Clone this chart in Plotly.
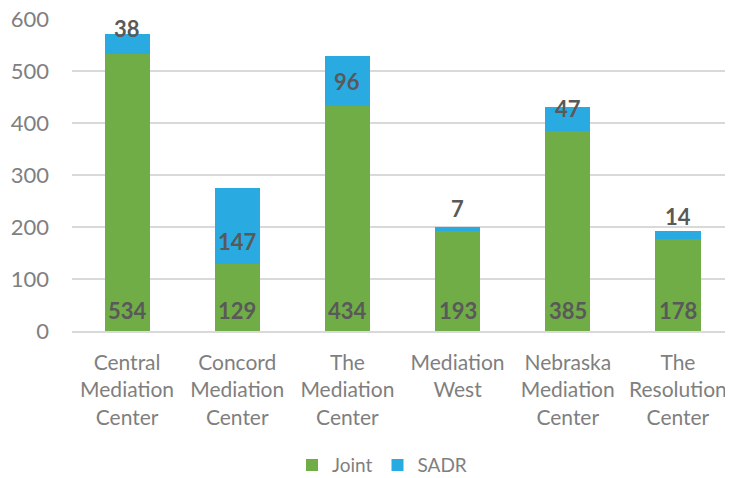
import plotly.graph_objects as go

# chart data
centers = ['Central<br>Mediation<br>Center', 'Concord<br>Mediation<br>Center',
           'The<br>Mediation<br>Center', 'Mediation<br>West',
           'Nebraska<br>Mediation<br>Center', 'The<br>Resolution<br>Center']
joint = [534, 129, 434, 193, 385, 178]
sadr = [38, 147, 96, 7, 47, 14]
y_ticks = [0, 100, 200, 300, 400, 500, 600]

# label offsets (pixels) relative to the top of each stack
sadr_shift = [5, -54, -26, 19, -2, 15]

GREEN = '#70AD47'
BLUE = '#29ABE2'
LABEL = '#595959'
TICK = '#7F7F7F'
FONT = 'Lato'

fig = go.Figure()
fig.add_trace(go.Bar(x=centers, y=joint, name='Joint', marker=dict(color=GREEN, line=dict(width=0))))
fig.add_trace(go.Bar(x=centers, y=sadr, name='SADR', marker=dict(color=BLUE, line=dict(width=0))))

annotations = []
for c, j, s, sh in zip(centers, joint, sadr, sadr_shift):
    annotations.append(dict(x=c, y=0, yshift=21, text=f'<b>{j}</b>', showarrow=False,
                            font=dict(family=FONT, size=22, color=LABEL)))
    annotations.append(dict(x=c, y=j + s, yshift=sh, text=f'<b>{s}</b>', showarrow=False,
                            font=dict(family=FONT, size=22, color=LABEL)))

# page body adds an 8px offset, so the figure is drawn 8px smaller
fig.update_layout(
    width=725, height=470,
    barmode='stack', bargap=0.59,
    margin=dict(l=64, r=0, t=11, b=147, autoexpand=False),
    plot_bgcolor='white', paper_bgcolor='white',
    font=dict(family=FONT, color=TICK),
    annotations=annotations,
    legend=dict(orientation='h', x=0.469, xanchor='center', y=-0.43, yanchor='middle',
                font=dict(family=FONT, size=19, color=TICK), traceorder='normal'),
    xaxis=dict(tickfont=dict(family=FONT, size=21, color=TICK), showline=True,
               linecolor='#D9D9D9', linewidth=1.5, ticks='', automargin=False,
               ticklabelstandoff=12),
    yaxis=dict(range=[0, 600.5], tickvals=y_ticks, tickfont=dict(family=FONT, size=22, color=TICK),
               showgrid=True, gridcolor='#D9D9D9', gridwidth=1.5, zeroline=False,
               ticklabelstandoff=22, showline=False, automargin=False,
               ticklabeloverflow='allow'),
)

fig.write_html('out.html')
